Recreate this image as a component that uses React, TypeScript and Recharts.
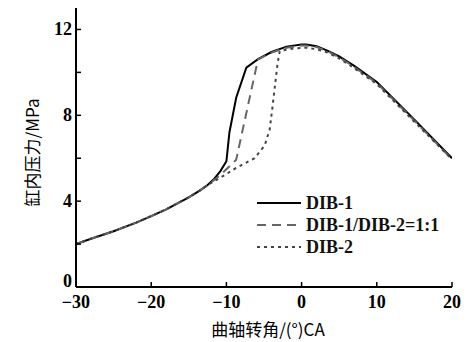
import React from "react";
import { LineChart, Line, XAxis, YAxis } from "recharts";

const commonX = [-30, -28, -25, -22, -20, -18, -15, -13.5, -12.5];
const commonY = [2.0, 2.25, 2.6, 3.0, 3.3, 3.62, 4.18, 4.5, 4.75];

const dib1X = [-11.6, -10.8, -10, -9.6, -8.7, -7.35, -5.8, -4, -2, 0, 0.6, 2, 3.5, 5, 7, 10, 15, 20];
const dib1Y = [5.05, 5.4, 5.86, 7.2, 8.82, 10.22, 10.62, 10.95, 11.2, 11.3, 11.3, 11.22, 11.0, 10.75, 10.3, 9.55, 7.8, 6.0];

const mixX = [-11.2, -9.35, -8.7, -5.8, -4, -2, 0, 0.6, 2, 3.5, 5, 7, 10, 15, 20];
const mixY = [5.1, 5.7, 5.93, 10.6, 10.92, 11.15, 11.25, 11.25, 11.18, 10.98, 10.7, 10.25, 9.5, 7.75, 5.95];

const dib2X = [-11, -8.7, -6.25, -4.9, -4.25, -3.9, -3.6, -3.2, -2.9, -1, 0.6, 2, 3.5, 5, 7, 10, 15, 20];
const dib2Y = [5.05, 5.55, 6.0, 6.6, 7.33, 8.3, 9.2, 10.4, 11.0, 11.12, 11.15, 11.08, 10.92, 10.65, 10.2, 9.45, 7.7, 5.95];

const xTicks = [-30, -20, -10, 0, 10, 20];
const yTicks = [0, 2, 4, 6, 8, 10, 12];
const yLabeled = [0, 4, 8, 12];

const seriesNames = ["DIB-1", "DIB-1/DIB-2=1:1", "DIB-2"];
const xTitle = "曲轴转角/(°)CA";
const yTitle = "缸内压力/MPa";

const build = (xs: number[], ys: number[]) => {
  const pts = commonX.map((x, i) => ({ x, y: commonY[i] }));
  return pts.concat(xs.map((x, i) => ({ x, y: ys[i] })));
};

const data1 = build(dib1X, dib1Y);
const data2 = build(mixX, mixY);
const data3 = build(dib2X, dib2Y);

const font = '"Liberation Serif", "DejaVu Serif", serif';
const cjk = '"Noto Sans CJK SC", sans-serif';

const styles = [
  { stroke: "#000", dash: undefined as string | undefined, width: 2 },
  { stroke: "#666", dash: "9 6", width: 2 },
  { stroke: "#444", dash: "3 4", width: 2 },
];

const XLabel = (props: any) => {
  const vb = props.viewBox || {};
  return (
    <text x={vb.x + vb.width / 2 + 4} y={vb.y + vb.height + 19} textAnchor="middle" fill="#000" fontFamily={cjk} fontSize={17}>
      {xTitle}
    </text>
  );
};

const YLabel = (props: any) => {
  const vb = props.viewBox || {};
  const cx = vb.x + 15;
  const cy = vb.y + vb.height / 2 + 5;
  return (
    <text x={cx} y={cy} transform={`rotate(-90 ${cx} ${cy})`} textAnchor="middle" dominantBaseline="central" fill="#000" fontFamily={cjk} fontSize={17}>
      {yTitle}
    </text>
  );
};

const YTick = (props: any) => {
  const { x, y, payload } = props;
  const v = payload.value;
  if (!yLabeled.includes(v)) return null;
  return (
    <text x={x} y={v === 0 ? y - 6 : y} textAnchor="end" dominantBaseline="central" fill="#000" fontFamily={font} fontWeight="bold" fontSize={18}>
      {String(v)}
    </text>
  );
};

const LegendBox = () => (
  <div style={{ position: "absolute", left: 257, top: 192, fontFamily: font, fontWeight: "bold", fontSize: 18, color: "#111" }}>
    {seriesNames.map((n, i) => (
      <div key={n} style={{ display: "flex", alignItems: "center", height: 22 }}>
        <svg width={46} height={10} style={{ marginRight: 3 }}>
          <line x1={0} y1={5} x2={44} y2={5} stroke={styles[i].stroke} strokeWidth={2} strokeDasharray={styles[i].dash} />
        </svg>
        <span>{n}</span>
      </div>
    ))}
  </div>
);

export default function App() {
  return (
    <div style={{ position: "absolute", left: 0, top: 0, width: 470, height: 342, background: "#fff" }}>
      <LineChart width={470} height={342} margin={{ top: 8, right: 18, bottom: 25, left: 16 }}>
        <XAxis
          type="number"
          dataKey="x"
          domain={[-30, 20]}
          ticks={xTicks}
          allowDataOverflow
          height={30}
          tickSize={-5}
          tickMargin={13}
          axisLine={{ stroke: "#000", strokeWidth: 2 }}
          tickLine={{ stroke: "#000", strokeWidth: 1.5 }}
          tick={{ fill: "#000", fontFamily: font, fontWeight: "bold", fontSize: 18 }}
          tickFormatter={(v: number) => (v < 0 ? "\u2212" + Math.abs(v) : String(v))}
          label={<XLabel />}
        />
        <YAxis
          type="number"
          dataKey="y"
          domain={[0, 13]}
          ticks={yTicks}
          allowDataOverflow
          width={60}
          tickSize={-5}
          tickMargin={9}
          axisLine={{ stroke: "#000", strokeWidth: 2 }}
          tickLine={{ stroke: "#000", strokeWidth: 1.5 }}
          tick={<YTick />}
          label={<YLabel />}
        />
        <Line data={data1} dataKey="y" name={seriesNames[0]} type="linear" stroke={styles[0].stroke} strokeWidth={styles[0].width} dot={false} isAnimationActive={false} />
        <Line data={data2} dataKey="y" name={seriesNames[1]} type="linear" stroke={styles[1].stroke} strokeWidth={styles[1].width} strokeDasharray={styles[1].dash} dot={false} isAnimationActive={false} />
        <Line data={data3} dataKey="y" name={seriesNames[2]} type="linear" stroke={styles[2].stroke} strokeWidth={styles[2].width} strokeDasharray={styles[2].dash} dot={false} isAnimationActive={false} />
      </LineChart>
      <LegendBox />
    </div>
  );
}
